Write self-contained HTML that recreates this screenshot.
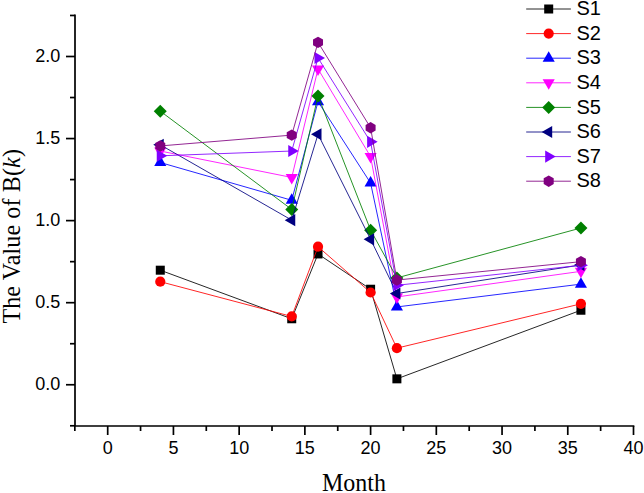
<!DOCTYPE html>
<html><head><meta charset="utf-8"><style>
html,body{margin:0;padding:0;background:#fff;}
svg{display:block;}
.t{font-family:"Liberation Sans",sans-serif;font-size:18px;fill:#000;}
.tl{font-family:"Liberation Sans",sans-serif;font-size:20px;fill:#000;}
.ti{font-family:"Liberation Serif",serif;font-size:24px;fill:#000;}
</style></head><body>
<svg width="644" height="493" viewBox="0 0 644 493">
<rect width="644" height="493" fill="#fff"/>
<path d="M75.0,15.47 V426.0 H633.50" fill="none" stroke="#000" stroke-width="1.7" stroke-linecap="square"/>
<line x1="70.0" y1="425.78" x2="75.0" y2="425.78" stroke="#000" stroke-width="1.7"/>
<line x1="66.0" y1="384.75" x2="75.0" y2="384.75" stroke="#000" stroke-width="1.7"/>
<text x="60.4" y="390.15" text-anchor="end" class="t">0.0</text>
<line x1="70.0" y1="343.72" x2="75.0" y2="343.72" stroke="#000" stroke-width="1.7"/>
<line x1="66.0" y1="302.69" x2="75.0" y2="302.69" stroke="#000" stroke-width="1.7"/>
<text x="60.4" y="308.09" text-anchor="end" class="t">0.5</text>
<line x1="70.0" y1="261.66" x2="75.0" y2="261.66" stroke="#000" stroke-width="1.7"/>
<line x1="66.0" y1="220.62" x2="75.0" y2="220.62" stroke="#000" stroke-width="1.7"/>
<text x="60.4" y="226.03" text-anchor="end" class="t">1.0</text>
<line x1="70.0" y1="179.59" x2="75.0" y2="179.59" stroke="#000" stroke-width="1.7"/>
<line x1="66.0" y1="138.56" x2="75.0" y2="138.56" stroke="#000" stroke-width="1.7"/>
<text x="60.4" y="143.96" text-anchor="end" class="t">1.5</text>
<line x1="70.0" y1="97.53" x2="75.0" y2="97.53" stroke="#000" stroke-width="1.7"/>
<line x1="66.0" y1="56.50" x2="75.0" y2="56.50" stroke="#000" stroke-width="1.7"/>
<text x="60.4" y="61.90" text-anchor="end" class="t">2.0</text>
<line x1="70.0" y1="15.47" x2="75.0" y2="15.47" stroke="#000" stroke-width="1.7"/>
<line x1="74.84" y1="426.0" x2="74.84" y2="431.0" stroke="#000" stroke-width="1.7"/>
<line x1="107.70" y1="426.0" x2="107.70" y2="435.0" stroke="#000" stroke-width="1.7"/>
<text x="107.70" y="454" text-anchor="middle" class="t">0</text>
<line x1="140.56" y1="426.0" x2="140.56" y2="431.0" stroke="#000" stroke-width="1.7"/>
<line x1="173.43" y1="426.0" x2="173.43" y2="435.0" stroke="#000" stroke-width="1.7"/>
<text x="173.43" y="454" text-anchor="middle" class="t">5</text>
<line x1="206.29" y1="426.0" x2="206.29" y2="431.0" stroke="#000" stroke-width="1.7"/>
<line x1="239.15" y1="426.0" x2="239.15" y2="435.0" stroke="#000" stroke-width="1.7"/>
<text x="239.15" y="454" text-anchor="middle" class="t">10</text>
<line x1="272.01" y1="426.0" x2="272.01" y2="431.0" stroke="#000" stroke-width="1.7"/>
<line x1="304.88" y1="426.0" x2="304.88" y2="435.0" stroke="#000" stroke-width="1.7"/>
<text x="304.88" y="454" text-anchor="middle" class="t">15</text>
<line x1="337.74" y1="426.0" x2="337.74" y2="431.0" stroke="#000" stroke-width="1.7"/>
<line x1="370.60" y1="426.0" x2="370.60" y2="435.0" stroke="#000" stroke-width="1.7"/>
<text x="370.60" y="454" text-anchor="middle" class="t">20</text>
<line x1="403.46" y1="426.0" x2="403.46" y2="431.0" stroke="#000" stroke-width="1.7"/>
<line x1="436.32" y1="426.0" x2="436.32" y2="435.0" stroke="#000" stroke-width="1.7"/>
<text x="436.32" y="454" text-anchor="middle" class="t">25</text>
<line x1="469.19" y1="426.0" x2="469.19" y2="431.0" stroke="#000" stroke-width="1.7"/>
<line x1="502.05" y1="426.0" x2="502.05" y2="435.0" stroke="#000" stroke-width="1.7"/>
<text x="502.05" y="454" text-anchor="middle" class="t">30</text>
<line x1="534.91" y1="426.0" x2="534.91" y2="431.0" stroke="#000" stroke-width="1.7"/>
<line x1="567.77" y1="426.0" x2="567.77" y2="435.0" stroke="#000" stroke-width="1.7"/>
<text x="567.77" y="454" text-anchor="middle" class="t">35</text>
<line x1="600.64" y1="426.0" x2="600.64" y2="431.0" stroke="#000" stroke-width="1.7"/>
<line x1="633.50" y1="426.0" x2="633.50" y2="435.0" stroke="#000" stroke-width="1.7"/>
<text x="633.50" y="454" text-anchor="middle" class="t">40</text>
<text transform="translate(354,490.6) scale(1,1.07)" x="0" y="0" text-anchor="middle" class="ti">Month</text>
<text transform="translate(19.8,323.6) rotate(-90) scale(1,1.07)" x="0" y="0" textLength="174.5" lengthAdjust="spacing" class="ti">The Value of B(<tspan font-style="italic">k</tspan>)</text>
<polyline points="160.28,270.19 291.73,318.77 318.02,253.94 370.60,289.23 396.89,378.84 580.92,310.24" fill="none" stroke="#000000" stroke-width="1" stroke-opacity="0.85"/>
<rect x="155.78" y="265.69" width="9.0" height="9.0" fill="#000000"/>
<rect x="287.23" y="314.27" width="9.0" height="9.0" fill="#000000"/>
<rect x="313.52" y="249.44" width="9.0" height="9.0" fill="#000000"/>
<rect x="366.10" y="284.73" width="9.0" height="9.0" fill="#000000"/>
<rect x="392.39" y="374.34" width="9.0" height="9.0" fill="#000000"/>
<rect x="576.42" y="305.74" width="9.0" height="9.0" fill="#000000"/>
<polyline points="160.28,281.68 291.73,316.47 318.02,246.72 370.60,292.51 396.89,348.15 580.92,303.84" fill="none" stroke="#FF0000" stroke-width="1" stroke-opacity="0.85"/>
<circle cx="160.28" cy="281.68" r="5.1" fill="#FF0000"/>
<circle cx="291.73" cy="316.47" r="5.1" fill="#FF0000"/>
<circle cx="318.02" cy="246.72" r="5.1" fill="#FF0000"/>
<circle cx="370.60" cy="292.51" r="5.1" fill="#FF0000"/>
<circle cx="396.89" cy="348.15" r="5.1" fill="#FF0000"/>
<circle cx="580.92" cy="303.84" r="5.1" fill="#FF0000"/>
<polyline points="160.28,162.52 291.73,200.27 318.02,101.63 370.60,183.04 396.89,306.95 580.92,284.14" fill="none" stroke="#0000FF" stroke-width="1" stroke-opacity="0.85"/>
<polygon points="160.28,155.52 166.34,166.02 154.22,166.02" fill="#0000FF"/>
<polygon points="291.73,193.27 297.79,203.77 285.67,203.77" fill="#0000FF"/>
<polygon points="318.02,94.63 324.08,105.13 311.96,105.13" fill="#0000FF"/>
<polygon points="370.60,176.04 376.66,186.54 364.54,186.54" fill="#0000FF"/>
<polygon points="396.89,299.95 402.95,310.45 390.83,310.45" fill="#0000FF"/>
<polygon points="580.92,277.14 586.98,287.64 574.86,287.64" fill="#0000FF"/>
<polyline points="160.28,151.04 291.73,177.46 318.02,68.97 370.60,156.62 396.89,296.94 580.92,271.34" fill="none" stroke="#FF00FF" stroke-width="1" stroke-opacity="0.85"/>
<polygon points="160.28,158.04 166.34,147.54 154.22,147.54" fill="#FF00FF"/>
<polygon points="291.73,184.46 297.79,173.96 285.67,173.96" fill="#FF00FF"/>
<polygon points="318.02,75.97 324.08,65.47 311.96,65.47" fill="#FF00FF"/>
<polygon points="370.60,163.62 376.66,153.12 364.54,153.12" fill="#FF00FF"/>
<polygon points="396.89,303.94 402.95,293.44 390.83,293.44" fill="#FF00FF"/>
<polygon points="580.92,278.34 586.98,267.84 574.86,267.84" fill="#FF00FF"/>
<polyline points="160.28,111.15 291.73,209.46 318.02,95.89 370.60,230.14 396.89,277.90 580.92,228.01" fill="none" stroke="#008000" stroke-width="1" stroke-opacity="0.85"/>
<polygon points="160.28,104.65 166.78,111.15 160.28,117.65 153.78,111.15" fill="#008000"/>
<polygon points="291.73,202.96 298.23,209.46 291.73,215.96 285.23,209.46" fill="#008000"/>
<polygon points="318.02,89.39 324.52,95.89 318.02,102.39 311.52,95.89" fill="#008000"/>
<polygon points="370.60,223.64 377.10,230.14 370.60,236.64 364.10,230.14" fill="#008000"/>
<polygon points="396.89,271.40 403.39,277.90 396.89,284.40 390.39,277.90" fill="#008000"/>
<polygon points="580.92,221.51 587.42,228.01 580.92,234.51 574.42,228.01" fill="#008000"/>
<polyline points="160.28,144.80 291.73,220.13 318.02,134.30 370.60,239.34 396.89,293.50 580.92,264.94" fill="none" stroke="#000080" stroke-width="1" stroke-opacity="0.85"/>
<polygon points="153.28,144.80 163.78,138.74 163.78,150.86" fill="#000080"/>
<polygon points="284.73,220.13 295.23,214.07 295.23,226.19" fill="#000080"/>
<polygon points="311.02,134.30 321.52,128.23 321.52,140.36" fill="#000080"/>
<polygon points="363.60,239.34 374.10,233.27 374.10,245.40" fill="#000080"/>
<polygon points="389.89,293.50 400.39,287.43 400.39,299.56" fill="#000080"/>
<polygon points="573.92,264.94 584.42,258.88 584.42,271.00" fill="#000080"/>
<polyline points="160.28,155.80 291.73,151.04 318.02,57.98 370.60,141.84 396.89,285.29 580.92,265.27" fill="none" stroke="#8000FF" stroke-width="1" stroke-opacity="0.85"/>
<polygon points="167.28,155.80 156.78,149.73 156.78,161.86" fill="#8000FF"/>
<polygon points="298.73,151.04 288.23,144.97 288.23,157.10" fill="#8000FF"/>
<polygon points="325.02,57.98 314.52,51.91 314.52,64.04" fill="#8000FF"/>
<polygon points="377.60,141.84 367.10,135.78 367.10,147.91" fill="#8000FF"/>
<polygon points="403.89,285.29 393.39,279.23 393.39,291.35" fill="#8000FF"/>
<polygon points="587.92,265.27 577.42,259.20 577.42,271.33" fill="#8000FF"/>
<polyline points="160.28,145.95 291.73,135.12 318.02,42.39 370.60,127.73 396.89,280.04 580.92,261.66" fill="none" stroke="#800080" stroke-width="1" stroke-opacity="0.85"/>
<polygon points="160.28,140.25 165.28,143.10 165.28,148.80 160.28,151.65 155.28,148.80 155.28,143.10" fill="#800080"/>
<polygon points="291.73,129.42 296.73,132.27 296.73,137.97 291.73,140.82 286.73,137.97 286.73,132.27" fill="#800080"/>
<polygon points="318.02,36.69 323.02,39.54 323.02,45.24 318.02,48.09 313.02,45.24 313.02,39.54" fill="#800080"/>
<polygon points="370.60,122.03 375.60,124.88 375.60,130.58 370.60,133.43 365.60,130.58 365.60,124.88" fill="#800080"/>
<polygon points="396.89,274.34 401.89,277.19 401.89,282.89 396.89,285.74 391.89,282.89 391.89,277.19" fill="#800080"/>
<polygon points="580.92,255.96 585.92,258.81 585.92,264.51 580.92,267.36 575.92,264.51 575.92,258.81" fill="#800080"/>
<line x1="526.2" y1="9.00" x2="570.9" y2="9.00" stroke="#000000" stroke-width="1" stroke-opacity="0.85"/>
<rect x="544.20" y="4.50" width="9.0" height="9.0" fill="#000000"/>
<text x="576.4" y="15.20" class="tl">S1</text>
<line x1="526.2" y1="33.60" x2="570.9" y2="33.60" stroke="#FF0000" stroke-width="1" stroke-opacity="0.85"/>
<circle cx="548.70" cy="33.60" r="5.1" fill="#FF0000"/>
<text x="576.4" y="39.80" class="tl">S2</text>
<line x1="526.2" y1="58.20" x2="570.9" y2="58.20" stroke="#0000FF" stroke-width="1" stroke-opacity="0.85"/>
<polygon points="548.70,51.20 554.76,61.70 542.64,61.70" fill="#0000FF"/>
<text x="576.4" y="64.40" class="tl">S3</text>
<line x1="526.2" y1="82.80" x2="570.9" y2="82.80" stroke="#FF00FF" stroke-width="1" stroke-opacity="0.85"/>
<polygon points="548.70,89.80 554.76,79.30 542.64,79.30" fill="#FF00FF"/>
<text x="576.4" y="89.00" class="tl">S4</text>
<line x1="526.2" y1="107.40" x2="570.9" y2="107.40" stroke="#008000" stroke-width="1" stroke-opacity="0.85"/>
<polygon points="548.70,100.90 555.20,107.40 548.70,113.90 542.20,107.40" fill="#008000"/>
<text x="576.4" y="113.60" class="tl">S5</text>
<line x1="526.2" y1="132.00" x2="570.9" y2="132.00" stroke="#000080" stroke-width="1" stroke-opacity="0.85"/>
<polygon points="541.70,132.00 552.20,125.94 552.20,138.06" fill="#000080"/>
<text x="576.4" y="138.20" class="tl">S6</text>
<line x1="526.2" y1="156.60" x2="570.9" y2="156.60" stroke="#8000FF" stroke-width="1" stroke-opacity="0.85"/>
<polygon points="555.70,156.60 545.20,150.54 545.20,162.66" fill="#8000FF"/>
<text x="576.4" y="162.80" class="tl">S7</text>
<line x1="526.2" y1="181.20" x2="570.9" y2="181.20" stroke="#800080" stroke-width="1" stroke-opacity="0.85"/>
<polygon points="548.70,175.50 553.70,178.35 553.70,184.05 548.70,186.90 543.70,184.05 543.70,178.35" fill="#800080"/>
<text x="576.4" y="187.40" class="tl">S8</text>
</svg>
</body></html>
